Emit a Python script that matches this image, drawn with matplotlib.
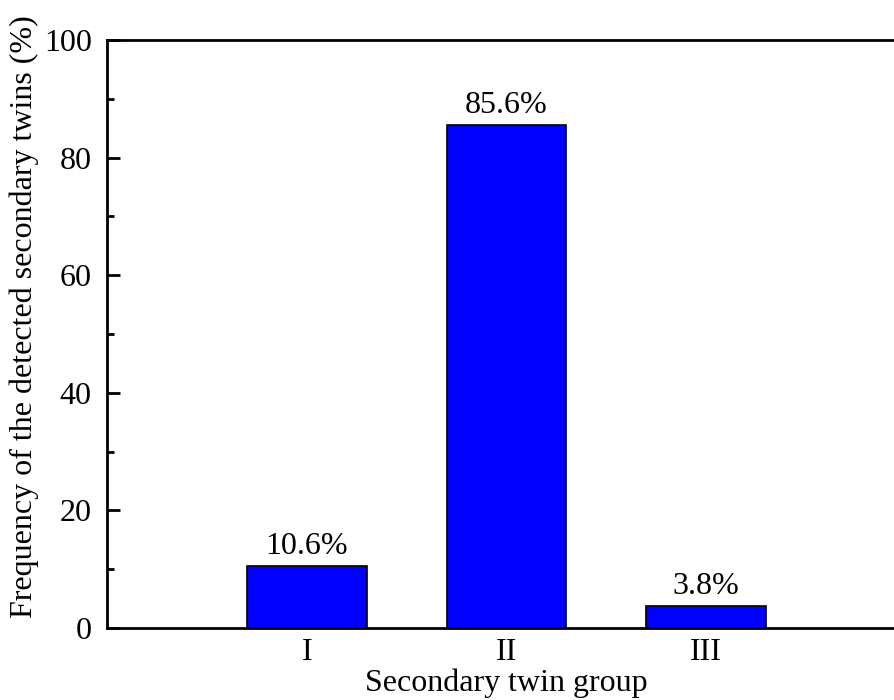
import matplotlib
matplotlib.use("Agg")
import matplotlib.pyplot as plt
from matplotlib.ticker import MultipleLocator

categories = ["I", "II", "III"]
values = [10.6, 85.6, 3.8]
labels = ["10.6%", "85.6%", "3.8%"]

plt.rcParams['font.family'] = ['Liberation Serif', 'DejaVu Serif']
fig = plt.figure(figsize=(8.94, 7.0), dpi=100)
W, H = 894, 700
left, right, top, bottom = 107, 906, 40, 628
ax = fig.add_axes([left / W, 1 - bottom / H, (right - left) / W, (bottom - top) / H])

x = [1, 2, 3]
ax.bar(x, values, width=0.6, color="#0000FF", edgecolor="black", linewidth=1.2, zorder=2)
for xi, v, lab in zip(x, values, labels):
    ax.text(xi, v + 0.8, lab, ha="center", va="bottom", fontsize=23)

ax.set_xlim(0, 4)
ax.set_ylim(0, 100)
ax.set_xticks(x)
ax.set_xticklabels(categories, fontsize=23)
ax.tick_params(axis="x", length=0, pad=7)
ax.yaxis.set_major_locator(MultipleLocator(20))
ax.yaxis.set_minor_locator(MultipleLocator(10))
ax.tick_params(axis="y", which="major", direction="in", length=9, width=2, labelsize=23, pad=11)
ax.tick_params(axis="y", which="minor", direction="in", length=5, width=2)
for s in ax.spines.values():
    s.set_linewidth(2)
ax.set_xlabel("Secondary twin group", fontsize=23, labelpad=1)
ax.set_ylabel("Frequency of the detected secondary twins (%)", fontsize=23)
ax.yaxis.set_label_coords(-0.0855, 0.529)

fig.savefig("out.png", dpi=100)
